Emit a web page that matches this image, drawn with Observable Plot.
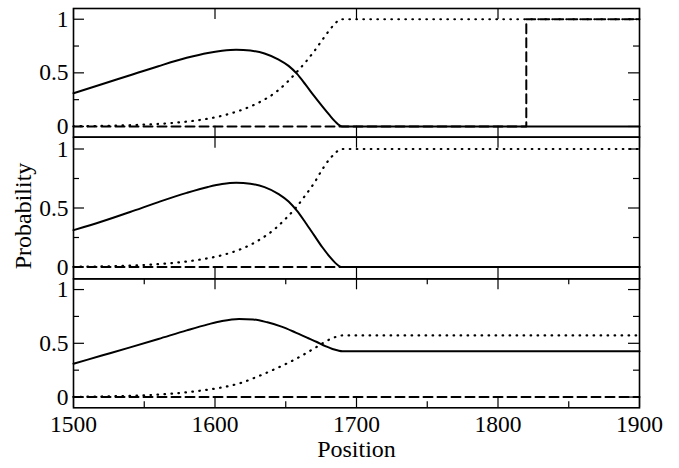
<!DOCTYPE html>
<html><head><meta charset="utf-8">
<script src="https://cdn.jsdelivr.net/npm/d3@7"></script>
<script src="https://cdn.jsdelivr.net/npm/@observablehq/plot@0.6"></script>
<style>
html,body{margin:0;padding:0;background:#fff;}
#chart{position:relative;width:679px;height:468px;overflow:hidden;}
#chart svg{position:absolute;left:0;top:0;}
#chart svg text{font-family:"Liberation Serif","Times New Roman",serif !important;}
</style></head><body><div id="chart"></div>
<script>
// ---- data (position, probability) ----
const p1Solid = [[1500,0.31],[1520,0.393],[1540,0.478],[1560,0.562],[1580,0.64],[1595,0.686],[1605,0.706],[1615,0.716],[1625,0.708],[1635,0.68],[1645,0.623],[1652,0.565],[1658,0.49],[1664,0.39],[1670,0.285],[1676,0.185],[1681,0.105],[1685,0.045],[1688,0.01],[1690,0],[1900,0]];
const p1Dotted = [[1500,0.002],[1530,0.008],[1550,0.017],[1570,0.033],[1590,0.062],[1605,0.10],[1620,0.16],[1632,0.23],[1643,0.32],[1650,0.40],[1657,0.497],[1664,0.60],[1670,0.70],[1676,0.81],[1681,0.90],[1685,0.962],[1689,1.0],[1900,1.0]];
const p1Dashed = [[1500,0],[1820,0],[1820,1],[1900,1]];

const p2Solid = [[1500,0.312],[1520,0.385],[1540,0.466],[1560,0.55],[1580,0.628],[1595,0.678],[1605,0.703],[1615,0.714],[1625,0.706],[1635,0.677],[1645,0.618],[1652,0.555],[1658,0.475],[1664,0.375],[1670,0.27],[1676,0.165],[1681,0.088],[1685,0.035],[1688,0.006],[1690,0],[1900,0]];
const p2Dotted = [[1500,0.002],[1530,0.008],[1550,0.017],[1570,0.034],[1590,0.064],[1605,0.10],[1620,0.16],[1632,0.235],[1643,0.33],[1650,0.41],[1657,0.50],[1664,0.61],[1670,0.71],[1676,0.83],[1681,0.915],[1685,0.965],[1689,1.0],[1900,1.0]];
const p2Dashed = [[1500,0],[1900,0]];

const p3Solid = [[1500,0.31],[1520,0.386],[1540,0.462],[1560,0.54],[1580,0.62],[1595,0.676],[1605,0.708],[1617,0.727],[1627,0.722],[1637,0.695],[1647,0.655],[1657,0.60],[1665,0.553],[1672,0.512],[1678,0.474],[1683,0.447],[1687,0.433],[1690,0.427],[1900,0.427]];
const p3Dotted = [[1500,0.002],[1530,0.008],[1550,0.016],[1570,0.032],[1590,0.06],[1605,0.09],[1618,0.13],[1630,0.19],[1643,0.264],[1655,0.34],[1664,0.405],[1671,0.46],[1677,0.508],[1682,0.542],[1686,0.562],[1690,0.573],[1900,0.573]];
const p3Dashed = [[1500,0],[1900,0]];

const xMajor = [1500, 1600, 1700, 1800, 1900];
const xMinor = [1550, 1650, 1750, 1850];
const yMajor = [0, 0.5, 1];
const yMinor = [0.25, 0.75];
const xLabel = "Position";
const yLabel = "Probability";

// ---- layout ----
const W = 679, H = 468, ML = 73, MR = 40;
const plotW = W - ML - MR;
const FONT = "Liberation Serif, Times New Roman, serif";
const FS = 23.5;
const panels = [
  {solid: p1Solid, dotted: p1Dotted, dashed: p1Dashed, top: 8, bottom: 136.7, xMinorTicks: false, xAxis: false, yTitle: false},
  {solid: p2Solid, dotted: p2Dotted, dashed: p2Dashed, top: 136.7, bottom: 278.3, xMinorTicks: false, xAxis: false, yTitle: true},
  {solid: p3Solid, dotted: p3Dotted, dashed: p3Dashed, top: 278.3, bottom: 407.3, xMinorTicks: true, xAxis: true, yTitle: false}
];

const chart = document.getElementById("chart");
for (const p of panels) {
  const plotH = p.bottom - p.top;
  const LM = 11, Lm = 6;
  const tk = {stroke: "black", strokeWidth: 1.2};
  const marks = [
    Plot.tickY(yMajor, {y: d => d, insetRight: plotW - LM, ...tk}),
    Plot.tickY(yMajor, {y: d => d, insetLeft: plotW - LM, ...tk}),
    Plot.tickY(yMinor, {y: d => d, insetRight: plotW - Lm, ...tk}),
    Plot.tickY(yMinor, {y: d => d, insetLeft: plotW - Lm, ...tk}),
    Plot.tickX(xMajor, {x: d => d, insetBottom: plotH - LM, ...tk}),
    Plot.tickX(xMajor, {x: d => d, insetTop: plotH - LM, ...tk}),
    Plot.axisY(yMajor, {anchor: "left", tickSize: 0, tickPadding: 5, tickFormat: d => String(d), label: null, fontSize: FS, fontFamily: FONT, fill: "black"}),
    Plot.line(p.dashed, {x: d => d[0], y: d => d[1], stroke: "black", strokeWidth: 2, strokeDasharray: "9,5", curve: "linear"}),
    Plot.line(p.dotted, {x: d => d[0], y: d => d[1], stroke: "black", strokeWidth: 2.2, strokeDasharray: "0.6,6.4", strokeLinecap: "round", curve: "monotone-x"}),
    Plot.line(p.solid, {x: d => d[0], y: d => d[1], stroke: "black", strokeWidth: 2, curve: "monotone-x"}),
    Plot.frame({stroke: "black", strokeWidth: 1.6})
  ];
  if (p.xMinorTicks) {
    marks.push(Plot.tickX(xMinor, {x: d => d, insetBottom: plotH - Lm, ...tk}));
    marks.push(Plot.tickX(xMinor, {x: d => d, insetTop: plotH - Lm, ...tk}));
  }
  if (p.xAxis) {
    marks.push(Plot.axisX(xMajor, {anchor: "bottom", tickSize: 0, tickPadding: 8, tickFormat: d => String(d), label: null, fontSize: FS, fontFamily: FONT, fill: "black"}));
    marks.push(Plot.text([xLabel], {frameAnchor: "bottom", dy: 32, lineAnchor: "top", fontSize: 24, fontFamily: FONT, fill: "black"}));
  }
  if (p.yTitle) {
    marks.push(Plot.text([yLabel], {frameAnchor: "left", rotate: -90, dx: -60, dy: 8, lineAnchor: "top", textAnchor: "middle", fontSize: 24, fontFamily: FONT, fill: "black"}));
  }
  const svg = Plot.plot({
    width: W, height: H,
    marginLeft: ML, marginRight: MR, marginTop: p.top, marginBottom: H - p.bottom,
    x: {domain: [1500, 1900], axis: null},
    y: {domain: [-0.1, 1.1], axis: null},
    style: {fontFamily: FONT, fontSize: FS + "px", color: "black", background: "transparent", overflow: "visible"},
    marks
  });
  chart.appendChild(svg);
}
</script></body></html>
